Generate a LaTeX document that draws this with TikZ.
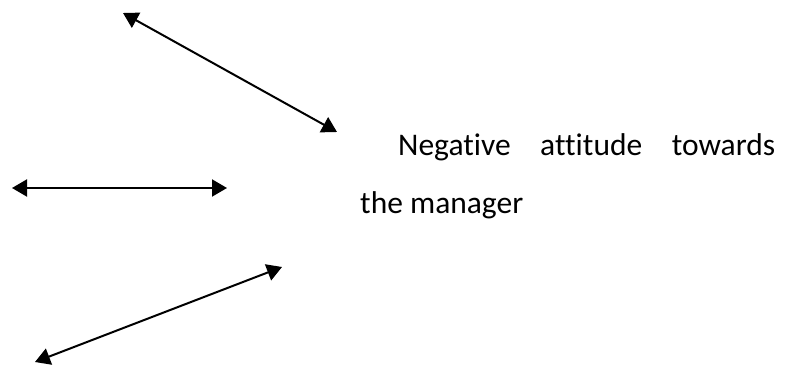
\documentclass[tikz,border=0pt]{standalone}
\usepackage{fontspec}
\setmainfont{Carlito}[Ligatures={NoCommon}]
\usetikzlibrary{arrows.meta}
\tikzset{
  dblarrow/.style={line width=2pt, black, {Triangle[length=15pt,width=17pt]}-{Triangle[length=15pt,width=17pt]}},
  txt/.style={anchor=base west, inner sep=0pt, font=\fontsize{31.5}{57}\selectfont}
}
\begin{document}
\begin{tikzpicture}[x=1pt, y=-1pt]
\useasboundingbox (0,0) rectangle (789,366);
\coordinate (a1s) at (123,13);
\coordinate (a1e) at (337,132);
\coordinate (a2s) at (12,188);
\coordinate (a2e) at (227,188);
\coordinate (a3s) at (35,362);
\coordinate (a3e) at (282,267);
\draw[dblarrow] (a1s) -- (a1e);
\draw[dblarrow] (a2s) -- (a2e);
\draw[dblarrow] (a3s) -- (a3e);
\node[txt] (l1) at (398,156) {\makebox[377pt][s]{Negative attitude towards}};
\node[txt] (l2) at (360,213) {the manager};
\end{tikzpicture}
\end{document}
